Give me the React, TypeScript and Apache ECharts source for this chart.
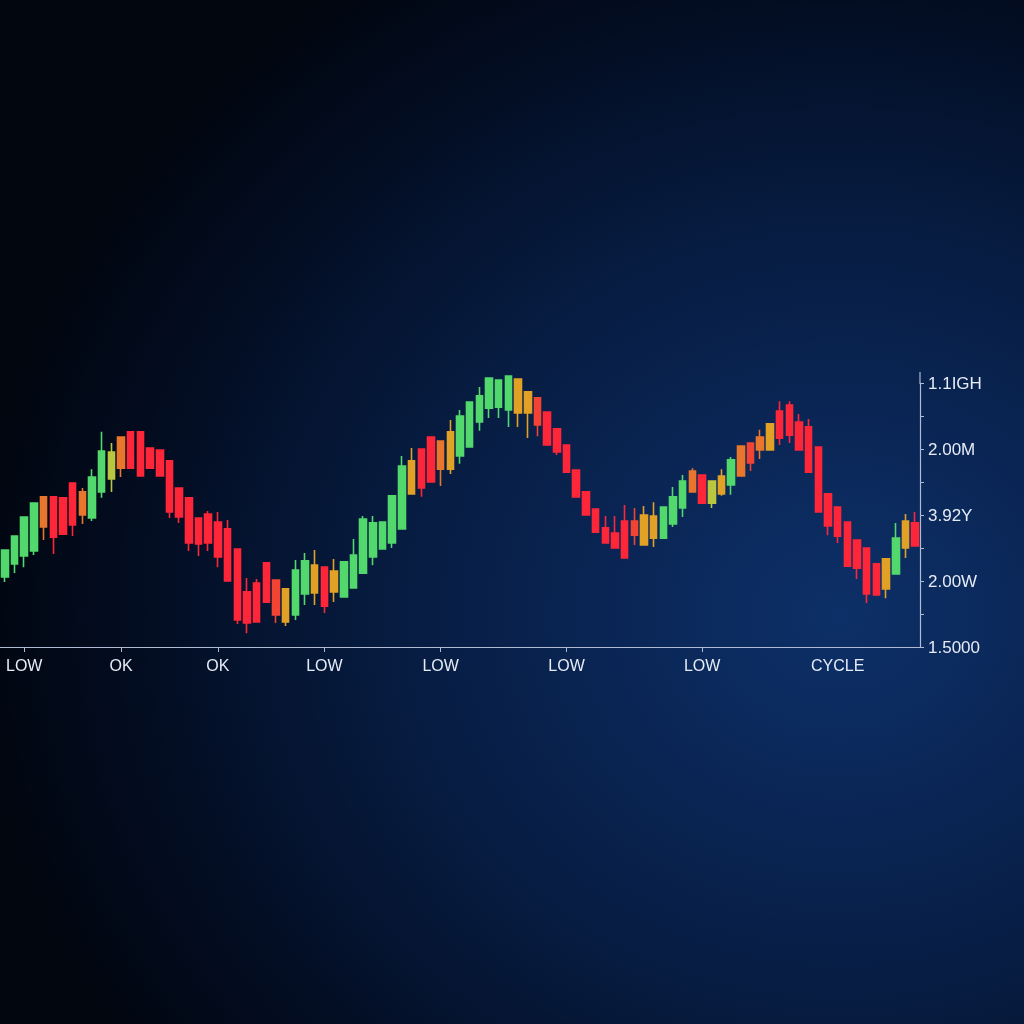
import React, { useEffect, useRef } from "react";
import * as echarts from "echarts";

// Candle values (open, close, low, high)
const opens = [
  2.12, 2.52, 2.76, 2.91, 3.64, 4.55, 4.52, 4.97, 4.0, 3.91,
  4.7, 5.09, 5.42, 6.52, 6.52, 6.03, 5.97, 5.64, 4.82, 4.52,
  3.91, 4.03, 3.79, 3.58, 2.97, 1.67, 1.94, 2.55, 2.03, 1.76,
  0.97, 1.61, 1.64, 2.42, 1.67, 1.52, 1.79, 2.24, 2.73, 2.97,
  3.15, 3.58, 4.64, 6.0, 6.36, 6.24, 5.39, 5.79, 6.06, 6.82,
  7.24, 7.27, 7.18, 8.12, 7.73, 7.55, 7.12, 6.61, 6.12, 5.36,
  4.7, 4.18, 3.61, 3.45, 3.82, 3.82, 3.09, 3.3, 3.3, 3.73,
  4.21, 4.7, 5.21, 4.36, 4.64, 4.91, 5.18, 6.18, 5.97, 5.97,
  7.15, 7.33, 6.82, 6.67, 6.06, 4.64, 4.24, 3.79, 3.24, 3.0,
  2.52, 1.76, 2.21, 3.0, 3.76,
];
const closes = [
  2.94, 3.36, 3.94, 4.36, 4.55, 3.33, 3.42, 3.7, 4.7, 5.15,
  5.94, 5.91, 6.36, 5.42, 5.18, 5.42, 5.18, 4.09, 3.94, 3.15,
  3.12, 3.15, 2.73, 2.0, 0.82, 0.73, 0.76, 1.36, 0.97, 0.76,
  2.33, 2.61, 2.48, 1.24, 2.3, 2.58, 2.79, 3.88, 3.76, 3.79,
  4.58, 5.48, 5.64, 4.82, 5.0, 5.39, 6.52, 7.0, 7.42, 7.61,
  8.15, 8.09, 8.21, 7.09, 7.09, 6.73, 6.12, 5.91, 5.3, 4.55,
  4.0, 3.48, 3.15, 3.0, 2.7, 3.39, 4.0, 3.97, 4.24, 4.55,
  5.03, 5.33, 4.36, 5.03, 5.18, 5.67, 6.09, 5.58, 6.36, 6.76,
  6.33, 6.42, 5.97, 5.3, 4.09, 3.67, 3.36, 2.45, 2.39, 1.61,
  1.58, 2.67, 3.3, 3.82, 3.06,
];
const lows = [
  1.97, 2.24, 2.42, 2.79, 3.24, 2.82, 3.42, 3.36, 3.73, 3.82,
  4.52, 4.7, 5.15, 5.42, 5.18, 5.42, 5.18, 3.91, 3.76, 2.91,
  2.76, 2.91, 2.42, 2.0, 0.7, 0.42, 0.76, 1.36, 0.73, 0.64,
  0.82, 1.27, 1.27, 1.03, 1.36, 1.52, 1.79, 2.24, 2.48, 2.97,
  3.0, 3.58, 4.64, 4.55, 5.0, 4.88, 5.24, 5.55, 6.06, 6.55,
  6.94, 6.94, 6.67, 6.67, 6.33, 6.39, 6.12, 5.82, 5.3, 4.55,
  4.0, 3.48, 3.15, 3.0, 2.7, 3.09, 3.09, 3.03, 3.3, 3.64,
  3.94, 4.7, 4.36, 4.21, 4.58, 4.61, 5.18, 5.33, 5.7, 5.97,
  6.12, 6.18, 5.97, 5.3, 4.09, 3.39, 3.15, 2.45, 2.06, 1.33,
  1.58, 1.48, 2.21, 2.7, 3.06,
];
const highs = [
  2.94, 3.36, 3.94, 4.36, 4.55, 4.55, 4.52, 4.97, 4.82, 5.39,
  6.52, 6.18, 6.36, 6.52, 6.52, 6.03, 5.97, 5.64, 4.82, 4.52,
  3.91, 4.12, 4.09, 3.85, 2.97, 2.09, 2.06, 2.55, 2.03, 1.76,
  2.64, 2.85, 2.94, 2.42, 2.67, 2.58, 3.27, 3.97, 3.97, 3.79,
  4.58, 5.79, 6.03, 6.0, 6.36, 6.24, 6.88, 7.18, 7.42, 7.88,
  8.15, 8.09, 8.21, 8.12, 7.73, 7.55, 7.12, 6.61, 6.12, 5.36,
  4.7, 4.18, 3.97, 3.97, 4.3, 4.21, 4.27, 4.39, 4.24, 4.85,
  5.21, 5.42, 5.21, 5.03, 5.39, 5.76, 6.09, 6.18, 6.58, 6.76,
  7.45, 7.45, 7.06, 6.91, 6.06, 4.64, 4.24, 3.79, 3.24, 3.0,
  2.52, 2.67, 3.76, 4.03, 4.09,
];
// colour family of each candle: G green, Y yellow-green, A amber, O orange, Q red-orange, R red
const candleColors = [
  "G", "G", "G", "G", "O", "R", "R", "R", "O", "G",
  "G", "Y", "O", "R", "R", "R", "R", "R", "R", "R",
  "R", "R", "R", "R", "R", "R", "R", "R", "Q", "A",
  "G", "G", "A", "R", "A", "G", "G", "G", "G", "G",
  "G", "G", "A", "R", "R", "O", "A", "G", "G", "G",
  "G", "G", "G", "A", "A", "Q", "R", "R", "R", "R",
  "R", "R", "R", "R", "R", "Q", "A", "A", "G", "G",
  "G", "O", "R", "Y", "A", "G", "O", "Q", "O", "A",
  "R", "R", "R", "R", "R", "R", "R", "R", "R", "R",
  "R", "A", "G", "A", "R",
];
const categories = opens.map((_, i) => String(i + 1));

// x-axis labels: candle index -> text
const xLabelIndex = [2, 12, 22, 33, 45, 58, 72, 86];
const xLabelText = ["LOW", "OK", "OK", "LOW", "LOW", "LOW", "LOW", "CYCLE"];
const xTickIndex = [2, 12, 22, 33, 45, 58, 72];

// y-axis labels
const yLabelValue = [0, 2, 4, 6, 8];
const yLabelText = ["1.5000", "2.00W", "3.92Y", "2.00M", "1.1IGH"];

const palette: Record<string, string> = {
  G: "#52d86c",
  Y: "#b9c640",
  A: "#e0a126",
  O: "#e8762c",
  Q: "#f24434",
  R: "#fe2639",
};

export default function App() {
  const ref = useRef<HTMLDivElement>(null);
  useEffect(() => {
    if (!ref.current) return;
    const chart = echarts.init(ref.current, undefined, { renderer: "svg" });
    const labelMap: Record<number, string> = {};
    xLabelIndex.forEach((idx, k) => (labelMap[idx] = xLabelText[k]));
    const tickSet = new Set(xTickIndex);
    const yMap: Record<number, string> = {};
    yLabelValue.forEach((v, k) => (yMap[v] = yLabelText[k]));

    const data = opens.map((o, i) => {
      const c = palette[candleColors[i]];
      return {
        value: [o, closes[i], lows[i], highs[i]],
        itemStyle: { color: c, color0: c, borderColor: c, borderColor0: c, borderWidth: 1.6 },
      };
    });

    chart.setOption({
      animation: false,
      backgroundColor: "transparent",
      grid: { left: -2, right: 104, top: 383, bottom: 377, containLabel: false },
      xAxis: {
        type: "category",
        data: categories,
        boundaryGap: true,
        axisLine: { show: true, lineStyle: { color: "#aebbd2", width: 1.2 } },
        axisTick: {
          show: true,
          alignWithLabel: true,
          length: 5,
          interval: (index: number) => tickSet.has(index),
          lineStyle: { color: "#aebbd2" },
        },
        axisLabel: {
          interval: (index: number) => labelMap[index] !== undefined,
          formatter: (_v: string, index: number) => labelMap[index] ?? "",
          color: "#e6ecf6",
          fontSize: 16,
          fontFamily: "Liberation Sans, Arial, sans-serif",
          margin: 10,
        },
        splitLine: { show: false },
      },
      yAxis: {
        type: "value",
        position: "right",
        min: 0,
        max: 8,
        interval: 1,
        axisLine: { show: true, lineStyle: { color: "#aebbd2", width: 1.2 } },
        axisTick: { show: true, length: 4, lineStyle: { color: "#aebbd2" } },
        axisLabel: {
          formatter: (v: number) => yMap[v] ?? "",
          color: "#e6ecf6",
          fontSize: 17,
          fontFamily: "Liberation Sans, Arial, sans-serif",
          margin: 8,
        },
        splitLine: { show: false },
      },
      graphic: [
        {
          type: "line",
          shape: { x1: 920, y1: 372, x2: 920, y2: 384 },
          style: { stroke: "#aebbd2", lineWidth: 1.2 },
        },
      ],
      series: [
        {
          type: "candlestick",
          data,
          barWidth: 7,
        },
      ],
    });
    return () => chart.dispose();
  }, []);

  return (
    <div
      style={{
        position: "fixed",
        left: 0,
        top: 0,
        width: 1024,
        height: 1024,
        background:
          "radial-gradient(ellipse 85% 75% at 82% 60%, #0d3068 0%, #0a2554 28%, #061a3d 55%, #030d22 80%, #01060f 100%)",
      }}
    >
      <div ref={ref} style={{ width: 1024, height: 1024 }} />
    </div>
  );
}
